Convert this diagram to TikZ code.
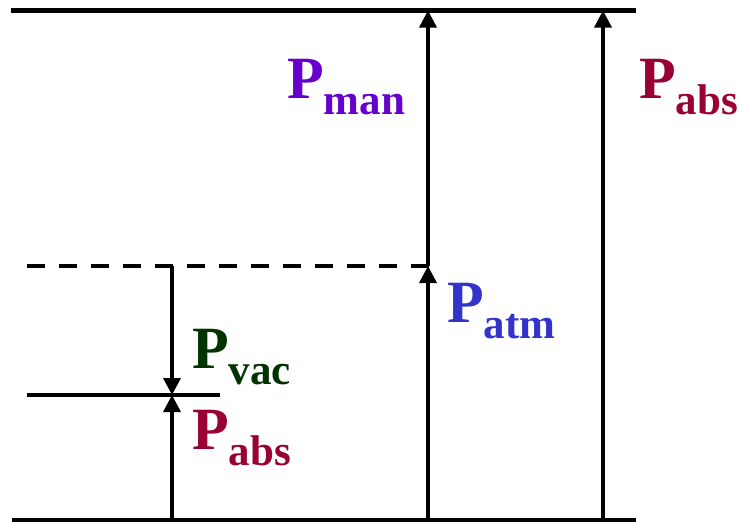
\documentclass[tikz,border=0pt]{standalone}
\usepackage{fontspec}
\setmainfont{Liberation Serif}
\usetikzlibrary{arrows.meta}
\definecolor{cman}{HTML}{6600CC}
\definecolor{cabs}{HTML}{990033}
\definecolor{catm}{HTML}{3333CC}
\definecolor{cvac}{HTML}{003300}
\newcommand{\plbl}[1]{{\fontsize{60}{60}\selectfont\bfseries P}\raisebox{-16pt}{\fontsize{43}{43}\selectfont\bfseries #1}}
\begin{document}
\begin{tikzpicture}[x=1pt,y=-1pt,
  lev/.style={line width=4.5pt},
  dlev/.style={line width=4.5pt,dash pattern=on 18pt off 14pt},
  arr/.style={line width=3.5pt,-{Triangle[width=17pt,length=17pt]}},
  lbl/.style={inner sep=0pt,anchor=base west}]
\useasboundingbox (0,0) rectangle (742,523);
% levels
\coordinate (tl) at (11,10.5);
\coordinate (tr) at (636,10.5);
\coordinate (bl) at (12,520);
\coordinate (br) at (636,520);
\coordinate (dl) at (27,266);
\coordinate (dr) at (438,266);
\coordinate (sl) at (27,395);
\coordinate (sr) at (220,395);
\draw[lev] (tl) -- (tr);
\draw[lev] (bl) -- (br);
\draw[dlev] (dl) -- (dr);
\draw[lev] (sl) -- (sr);
% arrow end points
\coordinate (a1) at (172,266);
\coordinate (a2) at (172,395);
\coordinate (a3) at (172,520);
\coordinate (b1) at (428,520);
\coordinate (b2) at (428,266);
\coordinate (b3) at (428,10.5);
\coordinate (c1) at (603,520);
\coordinate (c2) at (603,10.5);
\draw[arr] (a1) -- (a2);
\draw[arr] (a3) -- (a2);
\draw[arr] (b1) -- (b2);
\draw[arr] (b2) -- (b3);
\draw[arr] (c1) -- (c2);
% labels
\node[lbl,text=cman] (pman) at (287,98) {\plbl{man}};
\node[lbl,text=cabs] (pabs1) at (639,98) {\plbl{abs}};
\node[lbl,text=catm] (patm) at (447,322) {\plbl{atm}};
\node[lbl,text=cvac] (pvac) at (192,368) {\plbl{vac}};
\node[lbl,text=cabs] (pabs2) at (192,449) {\plbl{abs}};
\end{tikzpicture}
\end{document}
